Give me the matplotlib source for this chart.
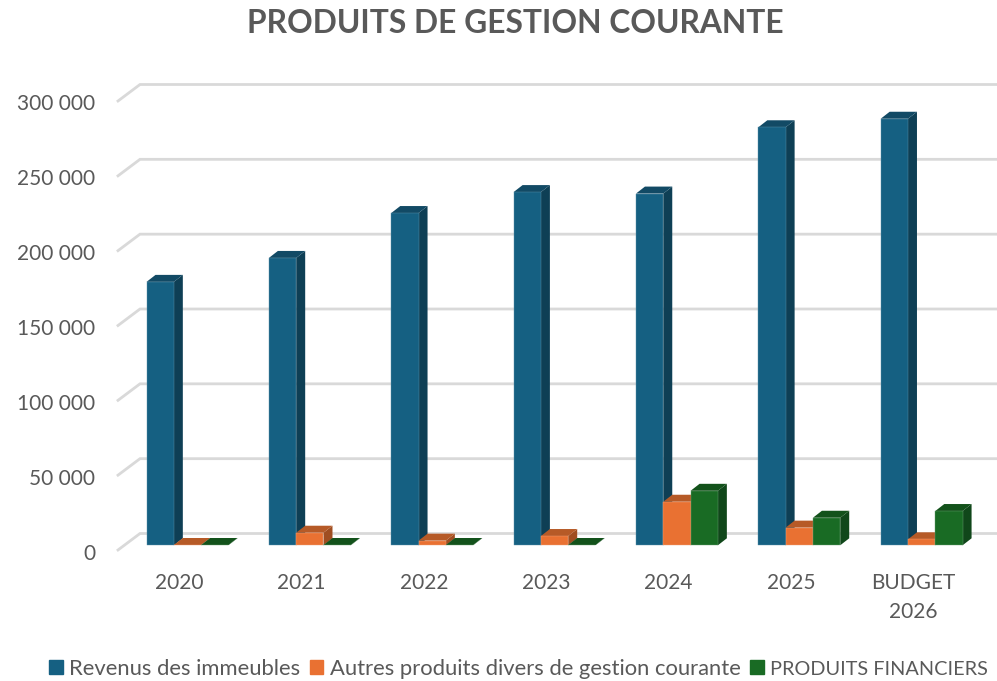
import matplotlib
matplotlib.use("Agg")
import matplotlib.pyplot as plt
from matplotlib.patches import Polygon, Patch
from matplotlib.transforms import Affine2D

plt.rcParams["font.family"] = ["Lato", "DejaVu Sans"]

categories = ["2020", "2021", "2022", "2023", "2024", "2025", "BUDGET\n2026"]
revenus = [176000, 192000, 222000, 236000, 235000, 279300, 285000]
autres = [200, 8400, 3100, 6200, 29100, 11800, 4000]
financiers = [200, 200, 200, 200, 36400, 18400, 22900]
series_names = ["Revenus des immeubles", "Autres produits divers de gestion courante", "PRODUITS FINANCIERS"]
yticks = [0, 50000, 100000, 150000, 200000, 250000, 300000]
ytick_labels = ["0", "50 000", "100 000", "150 000", "200 000", "250 000", "300 000"]

front_colors = ["#156082", "#E97132", "#196B24"]
top_colors = ["#124A65", "#B65A27", "#13521B"]
side_colors = ["#0E3F55", "#A04E21", "#10471A"]
edge_colors = ["#5F93AB", "#F0A27A", "#6FA276"]
text_color = "#595959"

W, H = 997, 681
fig = plt.figure(figsize=(W / 100, H / 100), dpi=100)
ax = fig.add_axes([118 / W, 1 - 550 / H, 856.5 / W, 449 / H])
ax.set_xlim(-0.5, 6.5)
ax.set_ylim(0, 300000)

# pixel sizes converted to data units
ux = 122.36
uy = 449 / 300000
bar_w = 27.3 / ux
shift_x = 8.3 / ux
base_y = 4.7 / uy
depth_x = 9 / ux
depth_y = 7 / uy
wall_x = 22 / ux
wall_y = 16.5 / uy

# back wall grid
for v in yticks:
    ax.plot([-0.5, -0.5 + wall_x, 6.5 + wall_x], [v, v + wall_y, v + wall_y],
            color="#D9D9D9", lw=2, clip_on=False, zorder=1, solid_joinstyle="miter")

values = [revenus, autres, financiers]
for i in range(len(categories)):
    for s in range(3):
        left = i + shift_x + (s - 1.5) * bar_w
        right = left + bar_w
        top = base_y + values[s][i]
        z = 3 + i + s * 0.1
        ax.add_patch(Polygon([(right, base_y), (right + depth_x, base_y + depth_y),
                              (right + depth_x, top + depth_y), (right, top)],
                             fc=side_colors[s], ec="none", zorder=z, clip_on=False))
        ax.add_patch(Polygon([(left, top), (left + depth_x, top + depth_y),
                              (right + depth_x, top + depth_y), (right, top)],
                             fc=top_colors[s], ec="none", zorder=z, clip_on=False))
        ax.bar(left, values[s][i], width=bar_w, bottom=base_y, align="edge",
               color=front_colors[s], edgecolor=edge_colors[s], linewidth=0.3,
               zorder=z, clip_on=False)

for side in ax.spines.values():
    side.set_visible(False)
ax.set_xticks(range(len(categories)))
ax.set_xticklabels(categories, fontsize=15, color=text_color, linespacing=1.55)
ax.set_yticks(yticks)
ax.set_yticklabels(ytick_labels, fontsize=15, color=text_color)
ax.tick_params(axis="x", length=0, pad=16.5)
ax.tick_params(axis="y", length=0, pad=16.5)
for label in ax.get_yticklabels():
    label.set_transform(label.get_transform() + Affine2D().translate(0, -1.5))

fig.text(515 / W, 1 - 23.5 / H, "PRODUITS DE GESTION COURANTE", fontsize=22.9,
         fontweight="bold", color=text_color, ha="center", va="center")

handles = [Patch(color=c) for c in front_colors]
leg = fig.legend(handles, series_names, ncol=3, loc="center", bbox_to_anchor=(518.5 / W, 1 - 669 / H),
                 frameon=False, fontsize=15.85, labelcolor=text_color, handlelength=0.62, handleheight=0.62,
                 handletextpad=0.28, columnspacing=0.45, borderpad=0, borderaxespad=0)
leg.get_texts()[2].set_fontsize(14.3)

fig.savefig("out.png", dpi=100)
